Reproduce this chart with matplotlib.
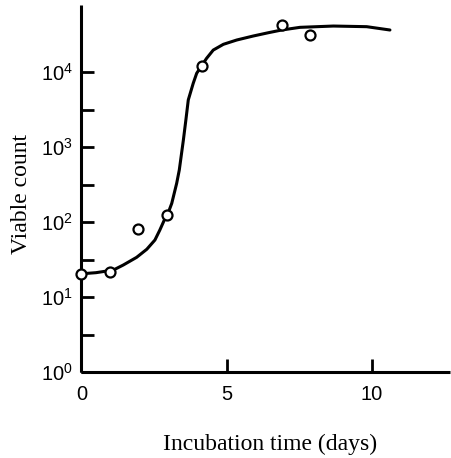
import matplotlib
matplotlib.use("Agg")
import matplotlib.pyplot as plt
from matplotlib.ticker import FixedLocator, NullFormatter

# Observed data points (open circles)
obs_days = [0.0, 0.98, 1.96, 2.96, 4.14, 6.90, 7.87]
obs_count = [20.3, 21.7, 80.7, 124, 12100, 42300, 31200]

# Fitted (hand-drawn) growth curve
curve_days = [0.0, 0.5, 1.10, 1.44, 1.90, 2.25, 2.53, 2.70, 2.88, 2.96,
              3.11, 3.28, 3.37, 3.51, 3.60, 3.68, 3.85, 3.97, 4.14, 4.31,
              4.54, 4.89, 5.35, 5.92, 6.44, 6.90, 7.53, 8.68, 9.83, 10.63]
curve_count = [20.4, 21.1, 22.9, 26.7, 33.8, 43.3, 57.5, 78.2, 112, 124,
               177, 328, 493, 1230, 2340, 4240, 7060, 9620, 12100, 15200,
               19600, 23400, 26700, 30200, 33400, 36300, 39400, 41000, 40200, 36300]

x_ticks = [0, 5, 10]
x_tick_labels = ["0", "5", "10"]
y_ticks = [1, 10, 100, 1000, 10000]
y_tick_labels = [r"$\mathregular{10^{0}}$", r"$\mathregular{10^{1}}$",
                 r"$\mathregular{10^{2}}$", r"$\mathregular{10^{3}}$",
                 r"$\mathregular{10^{4}}$"]
y_minor = [10 ** 0.5, 10 ** 1.5, 10 ** 2.5, 10 ** 3.5]

plt.rcParams["font.family"] = ["Liberation Sans", "DejaVu Sans"]

fig = plt.figure(figsize=(4.52, 4.58), dpi=100)
ax = fig.add_axes([81.5 / 452, (458 - 372) / 458, (450 - 81.5) / 452, (372 - 5) / 458])

ax.plot(curve_days, curve_count, color="black", lw=2.2, solid_capstyle="round",
        solid_joinstyle="round", zorder=2)
ax.plot(obs_days, obs_count, linestyle="none", marker="o", ms=7.2,
        mfc="white", mec="black", mew=1.6, zorder=3, clip_on=False)

ax.set_yscale("log")
ax.set_xlim(0, 12.7)
ax.set_ylim(1, 10 ** ((372 - 5) / 75))

for s in ["top", "right"]:
    ax.spines[s].set_visible(False)
for s in ["left", "bottom"]:
    ax.spines[s].set_linewidth(2.2)
    ax.spines[s].set_capstyle("butt")

ax.xaxis.set_major_locator(FixedLocator(x_ticks))
ax.set_xticklabels(x_tick_labels)
ax.yaxis.set_major_locator(FixedLocator(y_ticks))
ax.set_yticklabels(y_tick_labels)
ax.yaxis.set_minor_locator(FixedLocator(y_minor))
ax.yaxis.set_minor_formatter(NullFormatter())
ax.xaxis.set_minor_locator(FixedLocator([]))

ax.tick_params(axis="both", which="both", direction="in", length=9.4, width=2.0,
               labelsize=14.5, color="black")
ax.tick_params(axis="x", pad=9)
ax.tick_params(axis="y", pad=6)

fig.text(270 / 452, 1 - 444 / 458, "Incubation time (days)", family="Liberation Serif",
         fontsize=17, ha="center", va="center")
fig.text(22 / 452, 1 - 194 / 458, "Viable count", family="Liberation Serif",
         fontsize=17, ha="center", va="center", rotation=90)

fig.savefig("out.png", dpi=100)
